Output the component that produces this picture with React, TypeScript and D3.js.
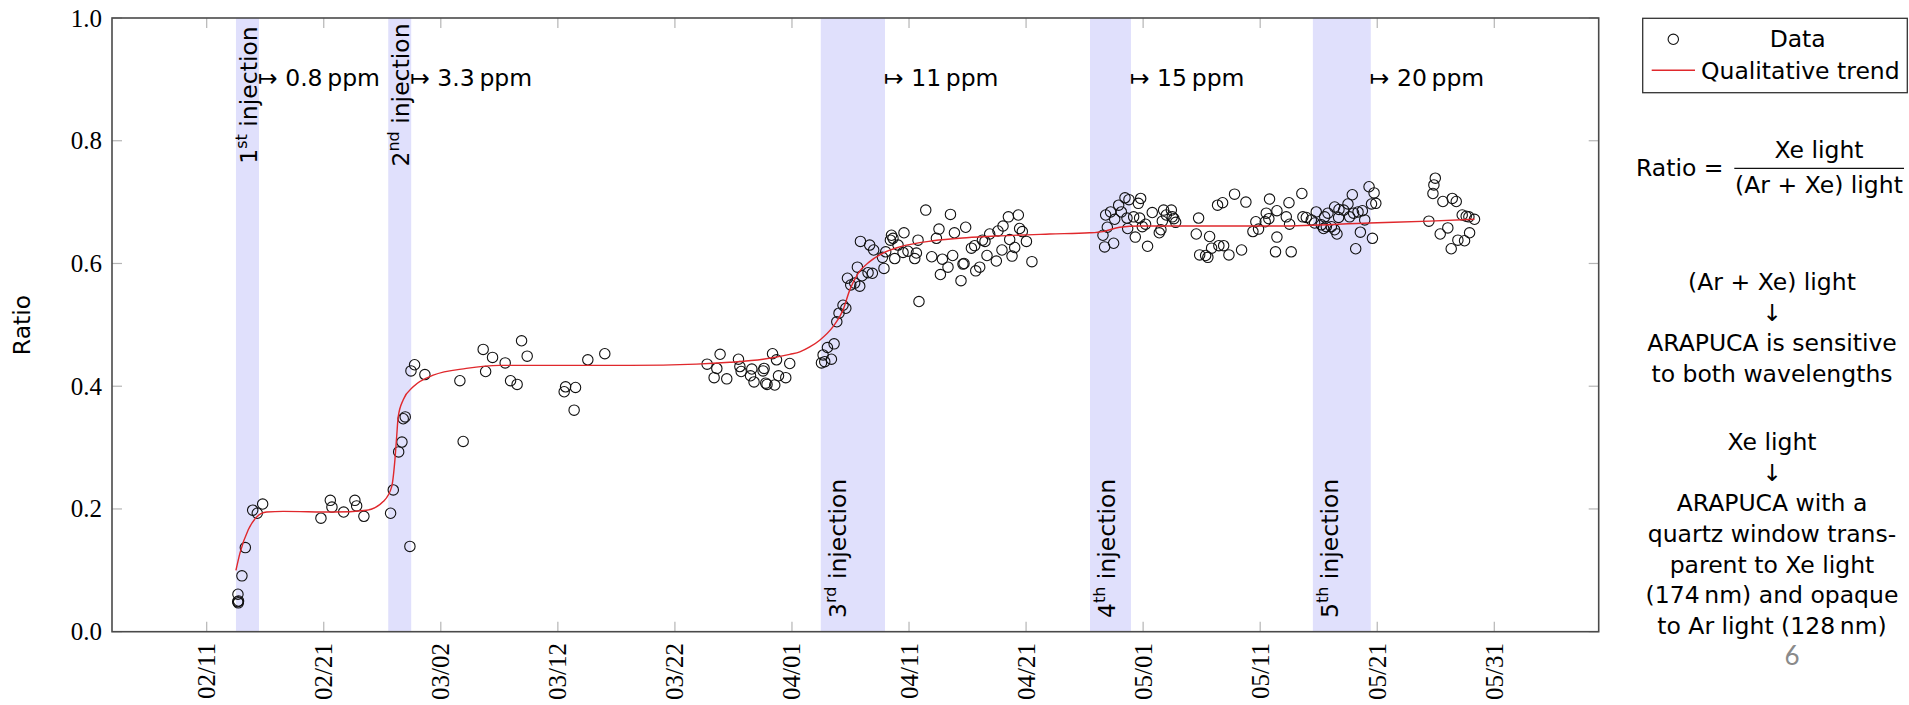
import React from "react";
import * as d3 from "d3";

// x values are days since 2024-02-01 (UTC), y values are the Xe / (Ar+Xe) ratio
const tickLabels = ["02/11", "02/21", "03/02", "03/12", "03/22", "04/01", "04/11", "04/21", "05/01", "05/11", "05/21", "05/31"];
const yTicks = [0, 0.2, 0.4, 0.6, 0.8, 1.0];

const bandStart = [12.5, 25.51, 62.46, 85.46, 104.5];
const bandEnd = [14.47, 27.47, 67.95, 88.96, 109.45];
const bandNth = ["1", "2", "3", "4", "5"];
const bandSuffix = ["st", "nd", "rd", "th", "th"];
const ppmLabels = ["0.8", "3.3", "11", "15", "20"];

const samples: [number, number][] = [
  [12.67, 0.061], [12.65, 0.049], [12.7, 0.047], [12.72, 0.05], [13.01, 0.091], [13.3, 0.137],
  [13.93, 0.198], [14.32, 0.193], [14.78, 0.208],
  [19.76, 0.185], [20.56, 0.214], [20.7, 0.203], [21.7, 0.195], [22.66, 0.214], [22.81, 0.205], [23.43, 0.188],
  [25.71, 0.193], [25.94, 0.231], [26.4, 0.293], [26.68, 0.309], [26.79, 0.347], [26.96, 0.35],
  [27.36, 0.139], [27.45, 0.425], [27.76, 0.435], [28.64, 0.419],
  [31.63, 0.409], [31.91, 0.31],
  [33.62, 0.46], [34.42, 0.447], [33.83, 0.424], [35.5, 0.438], [36.9, 0.474], [37.38, 0.449], [35.96, 0.409], [36.52, 0.403],
  [40.54, 0.391], [40.66, 0.399], [41.51, 0.398], [41.39, 0.361], [42.56, 0.443], [44.01, 0.453],
  [52.75, 0.436], [53.86, 0.452], [53.58, 0.429], [53.35, 0.414], [54.43, 0.412], [55.43, 0.444], [55.55, 0.432],
  [55.66, 0.424], [56.57, 0.428], [56.46, 0.417], [56.76, 0.407], [57.53, 0.425], [57.62, 0.429], [57.76, 0.405],
  [57.87, 0.403], [58.34, 0.453], [58.68, 0.443], [58.53, 0.402], [58.85, 0.417], [59.47, 0.414], [59.81, 0.437],
  [62.52, 0.438], [62.8, 0.44], [63.37, 0.444], [62.66, 0.451], [63.03, 0.463], [63.6, 0.469], [63.83, 0.505],
  [64.02, 0.519], [64.36, 0.532], [64.6, 0.527], [64.74, 0.576], [65.02, 0.565], [65.36, 0.568], [65.79, 0.563],
  [65.59, 0.594], [65.99, 0.58], [66.5, 0.585], [66.87, 0.584], [65.85, 0.636], [66.64, 0.63], [66.98, 0.622],
  [67.73, 0.61], [67.86, 0.592], [68.01, 0.619], [68.5, 0.646], [68.63, 0.641], [68.41, 0.638], [68.78, 0.608],
  [69.06, 0.63], [69.57, 0.65], [69.49, 0.618], [69.91, 0.62], [70.49, 0.608], [70.63, 0.617], [70.77, 0.638],
  [71.43, 0.687], [70.85, 0.538], [71.94, 0.611], [72.34, 0.641], [72.56, 0.656], [72.85, 0.607], [72.68, 0.582],
  [73.33, 0.594], [73.54, 0.68], [73.73, 0.613], [73.88, 0.65], [74.61, 0.599], [74.44, 0.572], [74.84, 0.659],
  [74.7, 0.6], [75.33, 0.625], [75.61, 0.629], [75.7, 0.588], [76.04, 0.594], [76.27, 0.638], [76.49, 0.636],
  [76.66, 0.613], [76.89, 0.648], [77.46, 0.604], [77.6, 0.653], [77.94, 0.622], [78.03, 0.661], [78.49, 0.676],
  [78.6, 0.639], [78.8, 0.612], [79.03, 0.626], [79.34, 0.679], [79.45, 0.657], [79.68, 0.652], [80.03, 0.636], [80.5, 0.603],
  [86.57, 0.646], [86.71, 0.627], [87.48, 0.633], [86.94, 0.659], [86.8, 0.679], [87.22, 0.684], [87.57, 0.672],
  [87.91, 0.695], [88.14, 0.684], [88.45, 0.707], [88.79, 0.704], [88.62, 0.674], [88.68, 0.657], [89.19, 0.676],
  [89.59, 0.698], [89.79, 0.706], [89.7, 0.674], [89.93, 0.66], [90.21, 0.664], [89.33, 0.643], [90.38, 0.628],
  [90.78, 0.683], [91.38, 0.65], [91.52, 0.655], [91.64, 0.669], [91.75, 0.687], [91.98, 0.679], [92.41, 0.687],
  [92.49, 0.676], [92.63, 0.673], [92.78, 0.667], [94.74, 0.674], [94.54, 0.648], [94.83, 0.614], [95.34, 0.613],
  [95.53, 0.61], [95.68, 0.644], [95.85, 0.625], [96.47, 0.629], [96.88, 0.629], [97.33, 0.614], [96.36, 0.695],
  [96.79, 0.699], [97.81, 0.713], [98.78, 0.7], [98.41, 0.622], [99.38, 0.652], [99.63, 0.668], [99.86, 0.656],
  [100.43, 0.668], [100.52, 0.682], [100.8, 0.705], [100.74, 0.673], [101.43, 0.686], [101.43, 0.643], [101.31, 0.619],
  [102.46, 0.699], [102.23, 0.676], [102.51, 0.664], [102.65, 0.619], [103.56, 0.714], [103.65, 0.676], [103.94, 0.675],
  [104.37, 0.671], [104.79, 0.684], [104.65, 0.666], [105.22, 0.663], [105.42, 0.657], [105.65, 0.66], [105.79, 0.682],
  [105.51, 0.676], [106.08, 0.66], [106.36, 0.655], [106.56, 0.648], [106.36, 0.692], [106.73, 0.688], [106.7, 0.675],
  [107.13, 0.687], [107.5, 0.697], [107.87, 0.712], [107.64, 0.676], [107.98, 0.682], [108.36, 0.684], [108.56, 0.651],
  [108.73, 0.686], [108.93, 0.671], [108.16, 0.624], [109.3, 0.725], [109.73, 0.715], [109.88, 0.698], [109.51, 0.697],
  [109.59, 0.641],
  [114.41, 0.669], [114.76, 0.714], [114.84, 0.728], [114.96, 0.739], [115.61, 0.701], [116.41, 0.706], [116.75, 0.701],
  [116.03, 0.658], [115.38, 0.648], [116.32, 0.624], [116.89, 0.638], [117.46, 0.637], [117.89, 0.65], [117.26, 0.679],
  [117.6, 0.677], [117.83, 0.676], [118.31, 0.672],
];

const trend: [number, number][] = [
  [12.5, 0.1], [12.84, 0.128], [13.55, 0.166], [14.27, 0.187], [15.12, 0.195], [16.54, 0.196], [20.81, 0.195],
  [23.66, 0.198], [25.08, 0.212], [25.8, 0.236], [26.08, 0.28], [26.23, 0.318], [26.36, 0.35], [26.79, 0.378],
  [27.64, 0.399], [29.35, 0.418], [32.18, 0.429], [35.03, 0.434], [40.45, 0.434], [46.15, 0.434], [51.84, 0.436],
  [54.69, 0.439], [57.53, 0.444], [59.81, 0.452], [60.67, 0.456], [61.52, 0.464], [62.37, 0.475], [63.51, 0.497],
  [64.36, 0.524], [64.94, 0.557], [65.65, 0.584], [66.64, 0.603], [67.78, 0.617], [69.21, 0.627], [72.05, 0.637],
  [74.9, 0.642], [77.74, 0.645], [82.01, 0.648], [85.43, 0.65], [86.57, 0.652], [88.0, 0.659], [89.7, 0.661],
  [95.4, 0.661], [101.66, 0.661], [109.34, 0.666], [114.47, 0.669], [118.31, 0.672],
];

const firstNote = ["(Ar + Xe) light", "\u2193", "ARAPUCA is sensitive", "to both wavelengths"];
const secondNote = ["Xe light", "\u2193", "ARAPUCA with a", "quartz window trans-", "parent to Xe light",
  "(174\u2009nm) and opaque", "to Ar light (128\u2009nm)"];

const labelFont = "\"DejaVu Sans\", sans-serif";
const t0 = Date.UTC(2024, 1, 1);
const toDate = (d: number) => new Date(t0 + d * 864e5);
const parseTick = d3.utcParse("%Y/%m/%d");

const App = () => {
  const left = 112, right = 1598.7, top = 18, bottom = 631.7;
  const x = d3.scaleUtc().domain([toDate(1.91), toDate(128.92)]).range([left, right]);
  const y = d3.scaleLinear().domain([0, 1]).range([bottom, top]);
  const line = d3.line<[number, number]>()
    .x(p => x(toDate(p[0])))
    .y(p => y(p[1]))
    .curve(d3.curveMonotoneX);

  const tickGray = "#b5b5b5";
  const axisColor = "#4a4a4a";
  const fs = 23.5;
  const lf = { fontFamily: labelFont };

  return (
    <svg width={1909} height={705} style={{ position: "absolute", left: 0, top: 0 }}>
      <rect width={1909} height={705} fill="white" />

      {bandStart.map((s, i) => (
        <rect key={"b" + i} x={x(toDate(s))} y={top} width={x(toDate(bandEnd[i])) - x(toDate(s))}
          height={bottom - top} fill="#e0e0fc" />
      ))}

      {/* ticks */}
      {tickLabels.map(t => {
        const tx = x(parseTick("2024/" + t)!);
        return (
          <g key={"xt" + t}>
            <line x1={tx} x2={tx} y1={bottom} y2={bottom - 10} stroke={tickGray} strokeWidth={1.2} />
            <line x1={tx} x2={tx} y1={top} y2={top + 10} stroke={tickGray} strokeWidth={1.2} />
            <text transform={`translate(${tx},643) rotate(-90)`} textAnchor="end" dominantBaseline="central"
              fontSize={25}>{t}</text>
          </g>
        );
      })}
      {yTicks.map(v => (
        <g key={"yt" + v}>
          <line x1={left} x2={left + 10} y1={y(v)} y2={y(v)} stroke={tickGray} strokeWidth={1.2} />
          <line x1={right} x2={right - 10} y1={y(v)} y2={y(v)} stroke={tickGray} strokeWidth={1.2} />
          <text x={102} y={y(v)} textAnchor="end" dominantBaseline="central" fontSize={25}>{v.toFixed(1)}</text>
        </g>
      ))}

      {/* injection labels */}
      {bandStart.map((s, i) => {
        const atTop = i < 2;
        const bx = atTop ? x(toDate(bandEnd[i])) - 2.5 : x(toDate(s)) + 25.5;
        const by = atTop ? 95 : 618;
        return (
          <text key={"bl" + i} transform={`translate(${bx},${by}) rotate(-90)`} textAnchor={atTop ? "middle" : "start"}
            fontSize={fs} style={lf}>
            {bandNth[i]}
            <tspan dy={-10} fontSize={16}>{bandSuffix[i]}</tspan>
            <tspan dy={10}>{" injection"}</tspan>
          </text>
        );
      })}
      {ppmLabels.map((p, i) => (
        <text key={"pp" + i} x={x(toDate(bandEnd[i])) - 1} y={86} fontSize={fs} style={lf}>
          {"\u21a6 " + p + "\u2009ppm"}
        </text>
      ))}

      {samples.map((p, i) => (
        <circle key={"s" + i} cx={x(toDate(p[0]))} cy={y(p[1])} r={5.2} fill="none" stroke="#111" strokeWidth={1.1} />
      ))}
      <path d={line(trend) || ""} fill="none" stroke="#e0282c" strokeWidth={1.4} />

      <rect x={left} y={top} width={right - left} height={bottom - top} fill="none" stroke={axisColor} strokeWidth={1.6} />

      <text transform={`translate(22,325) rotate(-90)`} textAnchor="middle" dominantBaseline="central"
        fontSize={fs} style={lf}>Ratio</text>

      {/* legend */}
      <rect x={1642.7} y={18.3} width={264.6} height={74.4} fill="white" stroke="#333" strokeWidth={1.3} />
      <circle cx={1673.3} cy={39.3} r={5.2} fill="none" stroke="#111" strokeWidth={1.1} />
      <text x={1797.7} y={47} textAnchor="middle" fontSize={fs} style={lf}>Data</text>
      <line x1={1651.7} x2={1695} y1={70.3} y2={70.3} stroke="#e0282c" strokeWidth={1.4} />
      <text x={1701} y={79} fontSize={fs} style={lf}>Qualitative trend</text>

      {/* ratio definition */}
      <text x={1636} y={176} fontSize={fs} style={lf}>Ratio =</text>
      <text x={1819} y={158} textAnchor="middle" fontSize={fs} style={lf}>Xe light</text>
      <line x1={1734.3} x2={1904} y1={168.3} y2={168.3} stroke="#111" strokeWidth={1.2} />
      <text x={1819} y={193} textAnchor="middle" fontSize={fs} style={lf}>(Ar + Xe) light</text>

      {firstNote.map((t, i) => (
        <text key={"n1" + i} x={1772} y={290 + i * 30.7} textAnchor="middle" fontSize={fs} style={lf}>{t}</text>
      ))}
      {secondNote.map((t, i) => (
        <text key={"n2" + i} x={1772} y={450 + i * 30.65} textAnchor="middle" fontSize={fs} style={lf}>{t}</text>
      ))}

      <text x={1792} y={665} textAnchor="middle" fontSize={26} fill="#8a8a8a"
        style={{ fontFamily: "Lato, 'Open Sans', sans-serif" }}>6</text>
    </svg>
  );
};

export default App;
